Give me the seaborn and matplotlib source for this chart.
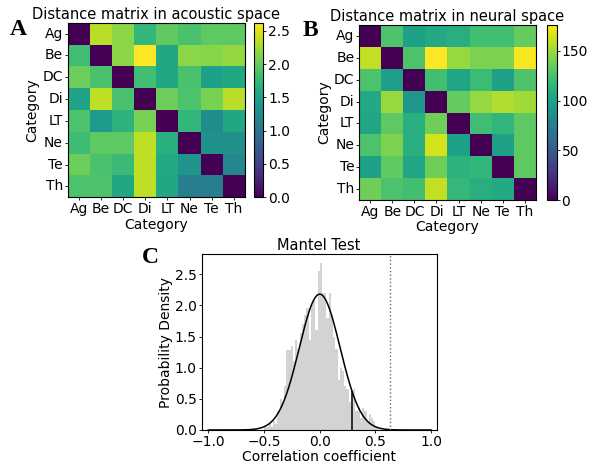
import numpy as np
import pandas as pd
import matplotlib
matplotlib.use('Agg')
import matplotlib.pyplot as plt
import seaborn as sns

plt.rcParams['font.family'] = ['DejaVu Sans']
for k in ['xtick', 'ytick']:
    plt.rcParams[k + '.major.size'] = 2.0
    plt.rcParams[k + '.major.pad'] = 1.5
    plt.rcParams[k + '.major.width'] = 0.6

categories = ['Ag', 'Be', 'DC', 'Di', 'LT', 'Ne', 'Te', 'Th']

# distance matrix, acoustic space (rows = category)
acoustic = [
    [0.00, 2.34, 2.16, 1.72, 1.98, 1.87, 1.97, 1.97],
    [1.82, 0.00, 2.16, 2.62, 1.56, 2.16, 2.14, 2.20],
    [2.03, 1.87, 0.00, 1.82, 1.56, 1.87, 1.48, 1.56],
    [1.52, 2.36, 1.87, 0.00, 2.03, 1.88, 2.08, 2.34],
    [1.88, 1.43, 1.68, 2.08, 0.00, 1.72, 1.28, 1.56],
    [1.80, 1.97, 1.97, 2.36, 1.66, 0.00, 1.32, 1.32],
    [2.03, 1.87, 1.78, 2.36, 1.58, 1.37, 0.00, 1.20],
    [1.88, 1.88, 1.56, 2.36, 1.56, 1.10, 1.10, 0.00],
]

# distance matrix, neural space
neural = [
    [0, 127, 101, 106, 111, 123, 123, 134],
    [160, 0, 127, 176, 148, 141, 141, 174],
    [126, 98, 0, 123, 104, 120, 101, 127],
    [106, 148, 93, 0, 134, 148, 155, 151],
    [104, 132, 111, 137, 0, 122, 115, 132],
    [126, 141, 111, 164, 100, 0, 101, 132],
    [101, 132, 104, 137, 113, 116, 0, 132],
    [137, 126, 123, 160, 117, 111, 106, 0],
]

# permutation null distribution (density per bin), bins start at -0.50, width 0.02
bin_start = -0.50
bin_width = 0.02
bin_density = [0.05, 0.05, 0.10, 0.05, 0.15, 0.10, 0.30, 0.50, 0.45, 0.70,
               1.28, 1.28, 1.35, 1.10, 1.45, 1.30, 1.55, 1.70, 1.85, 1.95,
               1.45, 2.00, 2.10, 1.60, 2.55, 2.68, 2.20, 2.20, 1.80, 2.20,
               1.85, 1.50, 1.30, 0.80, 1.00, 0.95, 0.70, 0.65, 0.45, 0.40,
               0.65, 0.30, 0.35, 0.20, 0.35, 0.30, 0.15, 0.25, 0.20, 0.15,
               0.05]
null_mean = 0.0
null_sd = 0.183
r_marker = 0.29
r_observed = 0.635

fig = plt.figure(figsize=(5.89, 4.63), dpi=100)

def draw_matrix(mat, rect, cbar_rect, title, ticks):
    ax = fig.add_axes(rect)
    cax = fig.add_axes(cbar_rect)
    df = pd.DataFrame(mat, index=categories, columns=categories)
    sns.heatmap(df, ax=ax, cbar_ax=cax, cmap='viridis', vmin=0,
                cbar_kws={'ticks': ticks})
    for s in ax.spines.values():
        s.set_visible(True)
        s.set_linewidth(0.8)
    ax.collections[0].colorbar.outline.set_linewidth(0.8)
    cax.tick_params(labelsize=10, length=2, pad=1.5, width=0.6)
    ax.set_title(title, fontsize=10.5, pad=3)
    ax.set_xlabel('Category', fontsize=10, labelpad=1)
    ax.set_ylabel('Category', fontsize=10, labelpad=2)
    ax.tick_params(labelsize=10, length=2, pad=1.5, width=0.6)
    plt.setp(ax.get_yticklabels(), rotation=0)
    plt.setp(ax.get_xticklabels(), rotation=0)
    return ax

draw_matrix(acoustic, [0.1149, 0.5739, 0.3010, 0.3771],
            [0.4312, 0.5739, 0.0158, 0.3771],
            'Distance matrix in acoustic space', [0, 0.5, 1.0, 1.5, 2.0, 2.5])
draw_matrix(neural, [0.6100, 0.5680, 0.2995, 0.3780],
            [0.9292, 0.5680, 0.0160, 0.3780],
            'Distance matrix in neural space', [0, 50, 100, 150])

# Mantel test panel
axc = fig.add_axes([0.3424, 0.0713, 0.3990, 0.3795])
n_bins = len(bin_density)
edges = [round(bin_start + i * bin_width, 3) for i in range(n_bins + 1)]
hist_df = pd.DataFrame({
    'r': [bin_start + (i + 0.5) * bin_width for i in range(n_bins)],
    'density': bin_density,
})
sns.histplot(data=hist_df, x='r', weights='density', bins=edges, ax=axc,
             color='lightgray', alpha=1, linewidth=0)
xs = np.linspace(-1.0, 1.0, 400)
pdf = np.exp(-(xs - null_mean) ** 2 / (2 * null_sd ** 2)) / (null_sd * np.sqrt(2 * np.pi))
sns.lineplot(x=xs, y=pdf, ax=axc, color='black', linewidth=1.1)
marker_h = np.exp(-(r_marker - null_mean) ** 2 / (2 * null_sd ** 2)) / (null_sd * np.sqrt(2 * np.pi))
axc.vlines(r_marker, 0, marker_h, color='black', linewidth=1.1)
axc.axvline(r_observed, color='dimgray', linestyle=':', linewidth=1)
axc.set_xlim(-1.06, 1.05)
axc.set_ylim(0, 2.82)
axc.set_xticks([-1.0, -0.5, 0.0, 0.5, 1.0])
axc.set_yticks([0.0, 0.5, 1.0, 1.5, 2.0, 2.5])
axc.tick_params(labelsize=10)
axc.set_title('Mantel Test', fontsize=10.5, pad=3)
axc.set_xlabel('Correlation coefficient', fontsize=10, labelpad=1)
axc.set_ylabel('Probability Density', fontsize=10, labelpad=1)

for lbl, x, y in [('A', 0.017, 0.924), ('B', 0.513, 0.922), ('C', 0.241, 0.431)]:
    fig.text(x, y, lbl, fontsize=17, fontweight='bold',
             family=['Liberation Serif', 'DejaVu Serif'])

fig.savefig('out.png', dpi=100)
